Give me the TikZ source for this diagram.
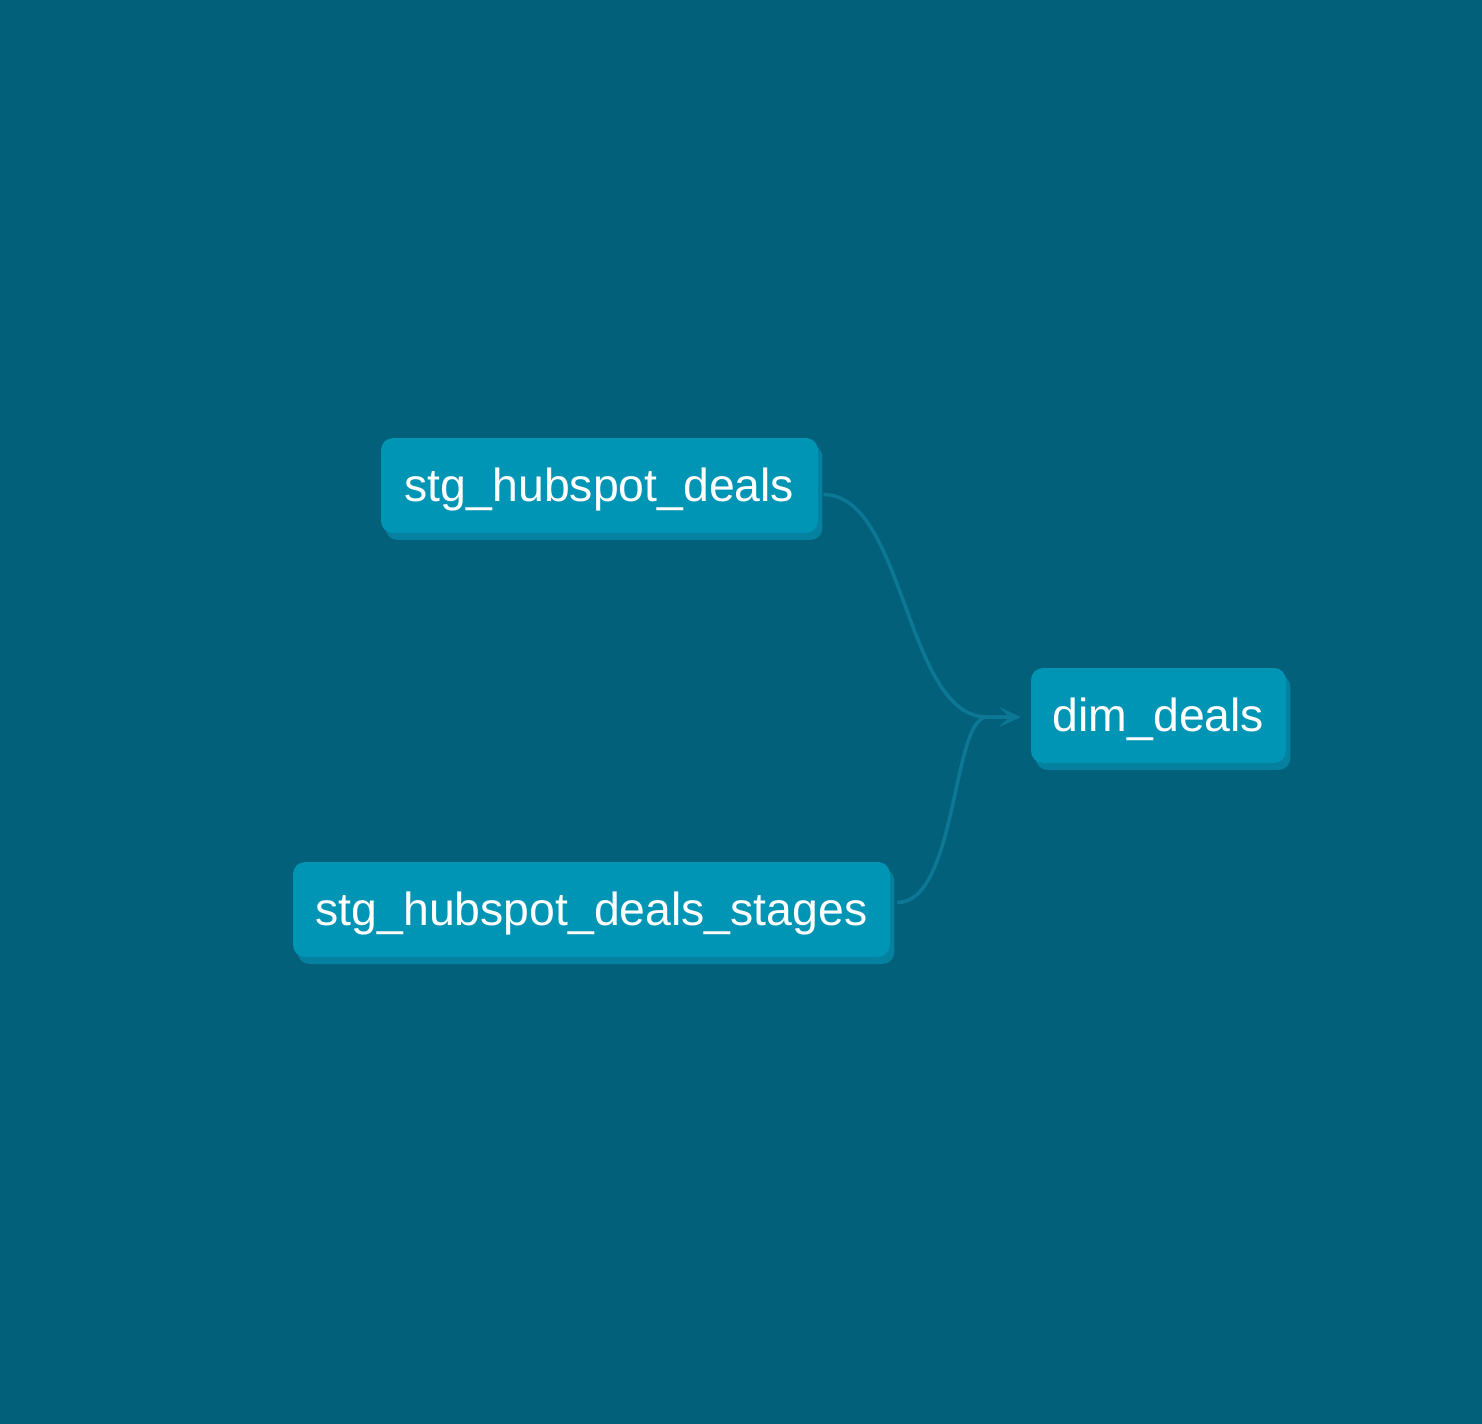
\documentclass[tikz,border=0pt]{standalone}
\usepackage{fontspec}
\setmainfont{Liberation Sans}
\usetikzlibrary{arrows.meta,shadows}

\definecolor{bgclr}{RGB}{3,96,122}
\definecolor{modelclr}{RGB}{0,148,181}
\definecolor{shadowclr}{RGB}{5,128,158}
\definecolor{edgeclr}{RGB}{12,120,150}

\begin{document}
\begin{tikzpicture}[x=0.02cm,y=-0.02cm,
	model/.style={fill=modelclr, text=white, rounded corners=0.24cm,
		minimum height=1.9cm, inner sep=0pt,
		font=\fontsize{26.4}{30}\selectfont,
		drop shadow={shadow xshift=0.09cm, shadow yshift=-0.14cm, opacity=1, fill=shadowclr}},
	label/.style={text=white, inner sep=0pt, font=\fontsize{26.4}{30}\selectfont},
	edge/.style={draw=edgeclr, line width=0.07cm,
		-{Stealth[length=0.42cm,width=0.38cm,inset=0.2cm]}}]

% background
\fill[bgclr] (0,0) rectangle (1482,1424);

% models
\node[model, minimum width=8.74cm] (deals) at (599.5,485.5) {};
\node[model, minimum width=11.94cm] (stages) at (591.5,909.5) {};
\node[model, minimum width=5.1cm] (dim) at (1158.5,715.5) {};

% names
\node[label, anchor=base] (dealsname) at (599.5,501) {stg\_hubspot\_deals};
\node[label, anchor=base] (stagesname) at (591.5,925) {stg\_hubspot\_deals\_stages};
\node[label, anchor=base] (dimname) at (1158.5,731) {dim\_deals};

% lineage
\coordinate (dealsout) at ([shift={(5,9)}]deals.east);
\coordinate (stagesout) at ([shift={(7,-7)}]stages.east);
\coordinate (join) at (987,717);

\draw[edge, shorten >=0.2cm] (dealsout) .. controls +(82,0) and +(-82,0) .. (join) -- (join -| dim.west);
\draw[edge, shorten >=0.2cm] (stagesout) .. controls +(60,0) and +(-35,0) .. (join) -- (join -| dim.west);

\end{tikzpicture}
\end{document}
